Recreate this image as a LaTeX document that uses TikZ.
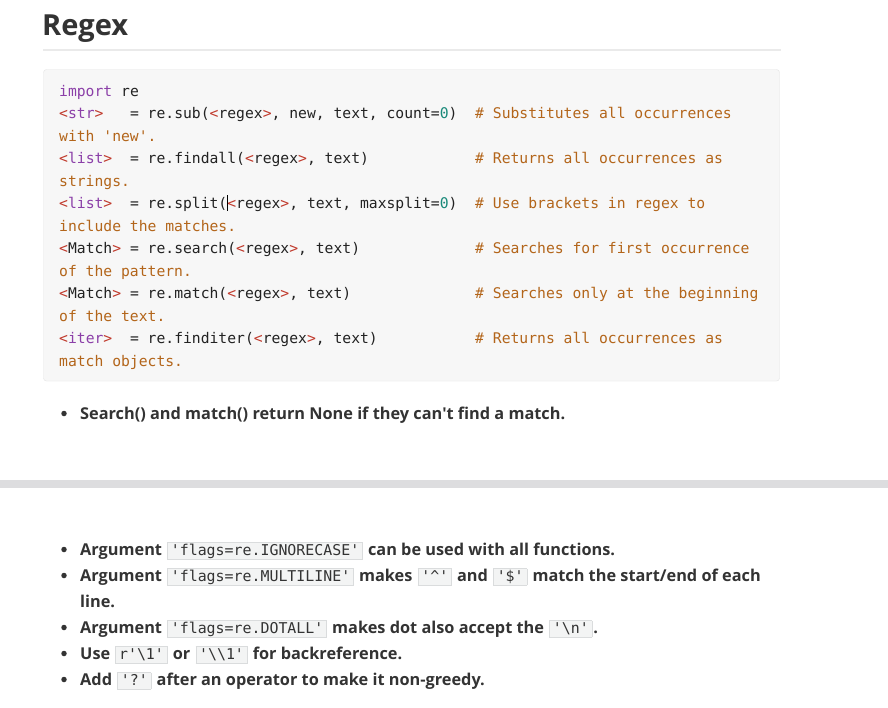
\documentclass[tikz,border=0pt]{standalone}
\usepackage{fontspec}
\setmainfont{Open Sans}
\setmonofont{DejaVu Sans Mono}
\usetikzlibrary{positioning}

\definecolor{ink}{HTML}{333333}
\definecolor{codeink}{HTML}{222222}
\definecolor{kwpurple}{HTML}{8B3FA8}
\definecolor{tagred}{HTML}{C0392B}
\definecolor{numteal}{HTML}{1A8A7A}
\definecolor{comment}{HTML}{B3651A}
\definecolor{boxfill}{HTML}{F7F7F7}
\definecolor{boxline}{HTML}{E4E4E4}
\definecolor{rulegray}{HTML}{EAEAEA}
\definecolor{band}{HTML}{DDDDDF}
\definecolor{icfill}{HTML}{F3F4F4}
\definecolor{icline}{HTML}{DADCDD}

\newcommand{\codesize}{\fontsize{14.7}{18}\selectfont}
\newcommand{\bodysize}{\fontsize{16.3}{20}\selectfont}
% code colouring
\newcommand{\tg}[1]{\textcolor{tagred}{<}\textcolor{kwpurple}{#1}\textcolor{tagred}{>}}
\newcommand{\tgd}[1]{\textcolor{tagred}{<}#1\textcolor{tagred}{>}}
\newcommand{\rx}{\tgd{regex}}
\newcommand{\nm}[1]{\textcolor{numteal}{#1}}
% inline code box
\newcommand{\ic}[1]{{\setlength{\fboxsep}{0pt}\setlength{\fboxrule}{0.6pt}%
  \hspace{1pt}\fcolorbox{icline}{icfill}{\rule[-4pt]{0pt}{16pt}\hspace{3pt}%
  {\normalfont\ttfamily\fontsize{14.9}{18}\selectfont #1}\hspace{3pt}}\hspace{1pt}}}

\tikzset{
  code/.style={anchor=base west, inner sep=0pt, font=\ttfamily\codesize, text=codeink},
  note/.style={code, text=comment},
  item/.style={anchor=base west, inner sep=0pt, font=\bfseries\bodysize, text=ink},
  dot/.style={circle, fill=ink, inner sep=0pt, minimum size=5.5pt},
}

\begin{document}
\begin{tikzpicture}[x=1pt,y=-1pt]
  \useasboundingbox[fill=white] (0,0) rectangle (888,707);

  % Heading and its rule:
  \node[anchor=base west, inner sep=0pt, font=\bfseries\fontsize{29}{34}\selectfont, text=ink] (title) at (42,35) {Regex};
  \fill[rulegray] (43,48.5) rectangle (781,50.5);

  % Code block:
  \draw[boxline, fill=boxfill, rounded corners=3pt] (43.5,69.5) rectangle (779.5,381);
  \begin{scope}
    \node[code] (l1)  at (59,96)    {\textcolor{kwpurple}{import} re};
    \node[code] (l2)  at (59,118.5) {\tg{str}~~~= re.sub(\rx, new, text, count=\nm{0})};
    \node[note] (c2)  at (475,118.5) {\# Substitutes all occurrences};
    \node[note] (l3)  at (59,141)   {with 'new'.};
    \node[code] (l4)  at (59,163.5) {\tg{list}~~= re.findall(\rx, text)};
    \node[note] (c4)  at (475,163.5) {\# Returns all occurrences as};
    \node[note] (l5)  at (59,186)   {strings.};
    \node[code] (l6)  at (59,208.5) {\tg{list}~~= re.split(\rx, text, maxsplit=\nm{0})};
    \node[note] (c6)  at (475,208.5) {\# Use brackets in regex to};
    \node[note] (l7)  at (59,231)   {include the matches.};
    \node[code] (l8)  at (59,253.5) {\tgd{Match} = re.search(\rx, text)};
    \node[note] (c8)  at (475,253.5) {\# Searches for first occurrence};
    \node[note] (l9)  at (59,276)   {of the pattern.};
    \node[code] (l10) at (59,298.5) {\tgd{Match} = re.match(\rx, text)};
    \node[note] (c10) at (475,298.5) {\# Searches only at the beginning};
    \node[note] (l11) at (59,321)   {of the text.};
    \node[code] (l12) at (59,343.5) {\tg{iter}~~= re.finditer(\rx, text)};
    \node[note] (c12) at (475,343.5) {\# Returns all occurrences as};
    \node[note] (l13) at (59,366)   {match objects.};
    % text cursor
    \draw[line width=0.8pt] (227,195) -- (227,211);
  \end{scope}

  % First list:
  \node[dot] (d0) at (64,413.5) {};
  \node[item] (b0) at (80,419) {Search() and match() return None if they can\textquotesingle t find a match.};

  % Separator band:
  \fill[band] (0,480) rectangle (888,488);

  % Second list:
  \foreach \y/\n in {555/1,581/2,633/4,659/5,685/6}
    \node[dot] (d\n) at (64,\y-5.5) {};
  \node[item] (b1) at (80,555) {Argument \ic{'flags=re.IGNORECASE'} can be used with all functions.};
  \node[item] (b2) at (80,581) {Argument \ic{'flags=re.MULTILINE'} makes \ic{'\textasciicircum'} and \ic{'\$'} match the start/end of each};
  \node[item] (b3) at (80,607) {line.};
  \node[item] (b4) at (80,633) {Argument \ic{'flags=re.DOTALL'} makes dot also accept the \ic{'\textbackslash n'}.};
  \node[item] (b5) at (80,659) {Use \ic{r'\textbackslash 1'} or \ic{'\textbackslash\textbackslash 1'} for backreference.};
  \node[item] (b6) at (80,685) {Add \ic{'?'} after an operator to make it non-greedy.};
\end{tikzpicture}
\end{document}
